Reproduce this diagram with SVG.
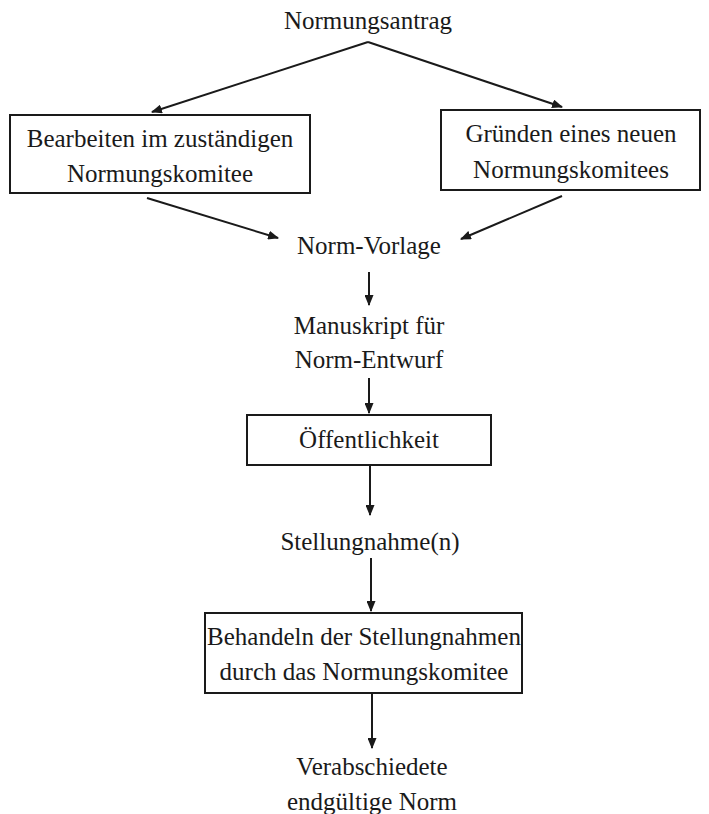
<svg xmlns="http://www.w3.org/2000/svg" width="709" height="814" viewBox="0 0 709 814">
  <style>
    text { font-family: "Liberation Serif", "Times New Roman", serif; font-size: 25px; fill: #1a1a1a; text-anchor: middle; }
    .box { fill: #ffffff; stroke: #1a1a1a; stroke-width: 2; }
    .edge { fill: none; stroke: #1a1a1a; stroke-width: 2; }
  </style>
  <defs>
    <marker id="arrow" viewBox="0 0 10 10" refX="9" refY="5" markerWidth="11" markerHeight="9" markerUnits="userSpaceOnUse" orient="auto" preserveAspectRatio="none">
      <path d="M0,0 L10,5 L0,10 z" fill="#1a1a1a"/>
    </marker>
  </defs>
  <rect width="709" height="814" fill="#ffffff"/>

  <g id="connectors">
    <path class="edge" d="M368,42 L152,112" marker-end="url(#arrow)"/>
    <path class="edge" d="M368,42 L562,107" marker-end="url(#arrow)"/>
    <path class="edge" d="M147,198 L278,238" marker-end="url(#arrow)"/>
    <path class="edge" d="M562,196 L461,239" marker-end="url(#arrow)"/>
    <path class="edge" d="M369,272 L369,305" marker-end="url(#arrow)"/>
    <path class="edge" d="M369,378 L369,413" marker-end="url(#arrow)"/>
    <path class="edge" d="M370,466 L370,515" marker-end="url(#arrow)"/>
    <path class="edge" d="M371,558 L371,611" marker-end="url(#arrow)"/>
    <path class="edge" d="M372,694 L372,748" marker-end="url(#arrow)"/>
  </g>

  <g id="normungsantrag">
    <text x="368" y="29">Normungsantrag</text>
  </g>

  <g id="bearbeiten">
    <rect class="box" x="10" y="115" width="300" height="78"/>
    <text x="160" y="147">Bearbeiten im zuständigen</text>
    <text x="160" y="182">Normungskomitee</text>
  </g>

  <g id="gruenden">
    <rect class="box" x="441" y="110" width="259" height="80"/>
    <text x="571" y="142">Gründen eines neuen</text>
    <text x="571" y="178">Normungskomitees</text>
  </g>

  <g id="norm-vorlage">
    <text x="369" y="254">Norm-Vorlage</text>
  </g>

  <g id="manuskript">
    <text x="369" y="334">Manuskript für</text>
    <text x="369" y="368">Norm-Entwurf</text>
  </g>

  <g id="oeffentlichkeit">
    <rect class="box" x="247" y="415" width="244" height="50"/>
    <text x="369" y="448">Öffentlichkeit</text>
  </g>

  <g id="stellungnahme">
    <text x="370" y="550">Stellungnahme(n)</text>
  </g>

  <g id="behandeln">
    <rect class="box" x="205" y="613" width="317" height="80"/>
    <text x="364" y="645">Behandeln der Stellungnahmen</text>
    <text x="364" y="680">durch das Normungskomitee</text>
  </g>

  <g id="verabschiedet">
    <text x="372" y="775">Verabschiedete</text>
    <text x="372" y="810">endgültige Norm</text>
  </g>
</svg>
